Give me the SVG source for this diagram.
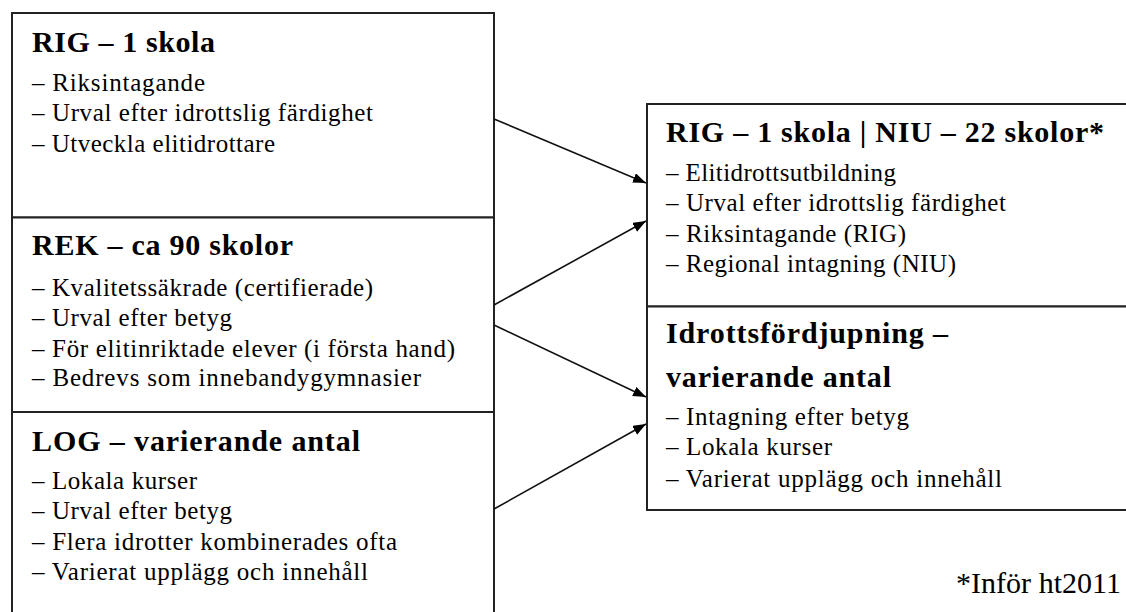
<svg xmlns="http://www.w3.org/2000/svg" width="1126" height="612" viewBox="0 0 1126 612">
<style>
  .box { fill: #ffffff; stroke: #222222; stroke-width: 2; }
  .title { font-family: "Liberation Serif", "Times New Roman", serif; font-weight: bold; font-size: 30px; fill: #000000; }
  .item { font-family: "Liberation Serif", "Times New Roman", serif; font-size: 25px; fill: #000000; }
  .note { font-family: "Liberation Serif", "Times New Roman", serif; font-size: 30px; fill: #000000; }
  .conn { stroke: #111111; stroke-width: 1.6; fill: none; marker-end: url(#arrow); }
</style>
<defs>
  <marker id="arrow" markerUnits="userSpaceOnUse" markerWidth="14" markerHeight="12" refX="13" refY="5" orient="auto">
    <path d="M0,0 L13,5 L0,10 z" fill="#000000"/>
  </marker>
</defs>
<rect x="0" y="0" width="1126" height="612" fill="#ffffff"/>

<g id="node-rig">
  <rect class="box" x="12" y="13" width="482" height="204.5"/>
  <text class="title" x="32" y="52" textLength="183">RIG – 1 skola</text>
  <text class="item" x="32" y="91" textLength="173">– Riksintagande</text>
  <text class="item" x="32" y="121" textLength="341">– Urval efter idrottslig färdighet</text>
  <text class="item" x="32" y="152" textLength="243">– Utveckla elitidrottare</text>
</g>

<g id="node-rek">
  <rect class="box" x="12" y="217.5" width="482" height="194.5"/>
  <text class="title" x="32" y="255" textLength="261">REK – ca 90 skolor</text>
  <text class="item" x="32" y="295.5" textLength="341">– Kvalitetssäkrade (certifierade)</text>
  <text class="item" x="32" y="326" textLength="200">– Urval efter betyg</text>
  <text class="item" x="32" y="356.5" textLength="423">– För elitinriktade elever (i första hand)</text>
  <text class="item" x="32" y="385.5" textLength="389">– Bedrevs som innebandygymnasier</text>
</g>

<g id="node-log">
  <rect class="box" x="12" y="412" width="482" height="230"/>
  <text class="title" x="32" y="450.5" textLength="328">LOG – varierande antal</text>
  <text class="item" x="32" y="489" textLength="165">– Lokala kurser</text>
  <text class="item" x="32" y="519" textLength="200">– Urval efter betyg</text>
  <text class="item" x="32" y="550" textLength="365">– Flera idrotter kombinerades ofta</text>
  <text class="item" x="32" y="580" textLength="336">– Varierat upplägg och innehåll</text>
</g>

<g id="node-rig-niu">
  <rect class="box" x="647" y="104" width="500" height="202.5"/>
  <text class="title" x="666" y="142" textLength="438">RIG – 1 skola | NIU – 22 skolor*</text>
  <text class="item" x="666" y="180.5" textLength="230">– Elitidrottsutbildning</text>
  <text class="item" x="666" y="210.5" textLength="340">– Urval efter idrottslig färdighet</text>
  <text class="item" x="666" y="241.5" textLength="240">– Riksintagande (RIG)</text>
  <text class="item" x="666" y="271.5" textLength="290">– Regional intagning (NIU)</text>
</g>

<g id="node-idrottsfordjupning">
  <rect class="box" x="647" y="306.5" width="500" height="203.5"/>
  <text class="title" x="666" y="343" textLength="282">Idrottsfördjupning –</text>
  <text class="title" x="666" y="387" textLength="225">varierande antal</text>
  <text class="item" x="666" y="425" textLength="243">– Intagning efter betyg</text>
  <text class="item" x="666" y="455" textLength="166">– Lokala kurser</text>
  <text class="item" x="666" y="486.5" textLength="336">– Varierat upplägg och innehåll</text>
</g>

<g id="connectors">
  <line class="conn" x1="494" y1="119" x2="646" y2="183"/>
  <line class="conn" x1="494" y1="305" x2="646" y2="221"/>
  <line class="conn" x1="494" y1="325" x2="646" y2="397"/>
  <line class="conn" x1="494" y1="509" x2="646" y2="424"/>
</g>

<text class="note" x="956" y="593" textLength="165">*Inför ht2011</text>
</svg>
